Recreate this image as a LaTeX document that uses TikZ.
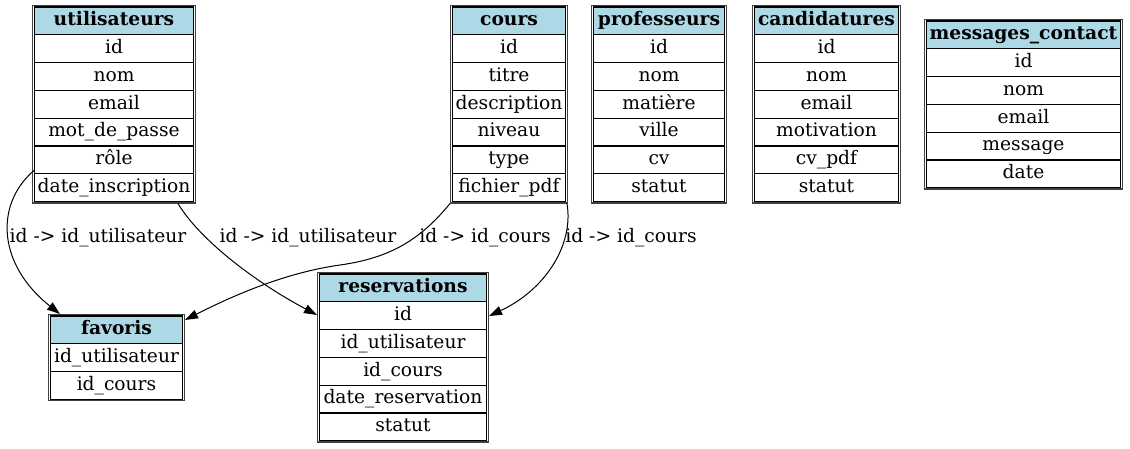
\documentclass[tikz,border=0pt]{standalone}
\usepackage{fontspec}
\setmainfont{DejaVu Serif}
\usetikzlibrary{arrows.meta,calc}
\definecolor{hdrblue}{HTML}{ADD8E6}
\newcommand\fsz{\fontsize{18.67pt}{22pt}\selectfont}
\tikzset{
 cellbox/.style={draw=black, line width=1.1pt, inner sep=0pt, minimum height=27.8pt, text height=13.5pt, text depth=4pt, font=\fsz},
 hdrbox/.style={cellbox, fill=hdrblue, font=\fsz\bfseries},
 outerbox/.style={draw=black!75, line width=1.4pt, inner sep=0pt},
 fk/.style={draw=black, line width=1pt, -{Triangle[length=13pt,width=9pt]}},
 lbl/.style={font=\fsz, inner sep=0pt, text height=13.5pt, text depth=4pt}
}
\newcommand\dbtab[7]{%
 \pgfmathsetmacro\dbxc{(#2+#3)/2}%
 \pgfmathsetmacro\dbw{#3-#2-5}%
 \pgfmathsetmacro\dbow{#3-#2-1.4}%
 \pgfmathsetmacro\dboh{4+27.8*(#5+1)-1.4}%
 \pgfmathsetmacro\dbyc{#4+(4+27.8*(#5+1))/2}%
 \node[outerbox, minimum width=\dbow pt, minimum height=\dboh pt] (#1) at (\dbxc,\dbyc) {};
 \node[hdrbox, minimum width=\dbw pt] (#1-0) at (\dbxc,{#4+2+13.9}) {#6};
 \foreach \f [count=\i] in {#7} {
   \node[cellbox, minimum width=\dbw pt] (#1-\i) at (\dbxc,{#4+2+13.9+27.8*\i}) {\f};
 }
}
\begin{document}
\begin{tikzpicture}[x=1pt,y=-1pt]
\useasboundingbox (0,0) rectangle (1130,448);
\dbtab{utilisateurs}{32}{196}{5}{6}{utilisateurs}{id,nom,email,mot\_de\_passe,rôle,date\_inscription}
\dbtab{cours}{450}{568}{5}{6}{cours}{id,titre,description,niveau,type,fichier\_pdf}
\dbtab{professeurs}{591}{727}{5}{6}{professeurs}{id,nom,matière,ville,cv,statut}
\dbtab{candidatures}{752}{901}{5}{6}{candidatures}{id,nom,email,motivation,cv\_pdf,statut}
\dbtab{messages}{924}{1123}{19}{5}{messages\_contact}{id,nom,email,message,date}
\dbtab{favoris}{48}{185}{314}{2}{favoris}{id\_utilisateur,id\_cours}
\dbtab{reservations}{317}{489}{272}{5}{reservations}{id,id\_utilisateur,id\_cours,date\_reservation,statut}

\draw[fk] ([yshift=-10.6pt]utilisateurs-5.west) .. controls (-6,205) and (-2,265) .. ([xshift=12pt]favoris.north west);
\draw[fk] ([xshift=-18pt]utilisateurs.south east) .. controls (200,240) and (255,282) .. ([yshift=-43pt]reservations.north west);
\draw[fk] (cours.south west) .. controls (420,240) and (390,258) .. (340,265) .. controls (290,272) and (240,292) .. ([yshift=-6pt]favoris.north east);
\draw[fk] ([xshift=-1pt]cours.south east) .. controls (574,245) and (545,290) .. ([yshift=-44pt]reservations.north east);

\node[lbl] (l1) at (98,238) {id -> id\_utilisateur};
\node[lbl] (l2) at (308,238) {id -> id\_utilisateur};
\node[lbl] (l3) at (485,238) {id -> id\_cours};
\node[lbl] (l4) at (631,238) {id -> id\_cours};
\end{tikzpicture}
\end{document}
